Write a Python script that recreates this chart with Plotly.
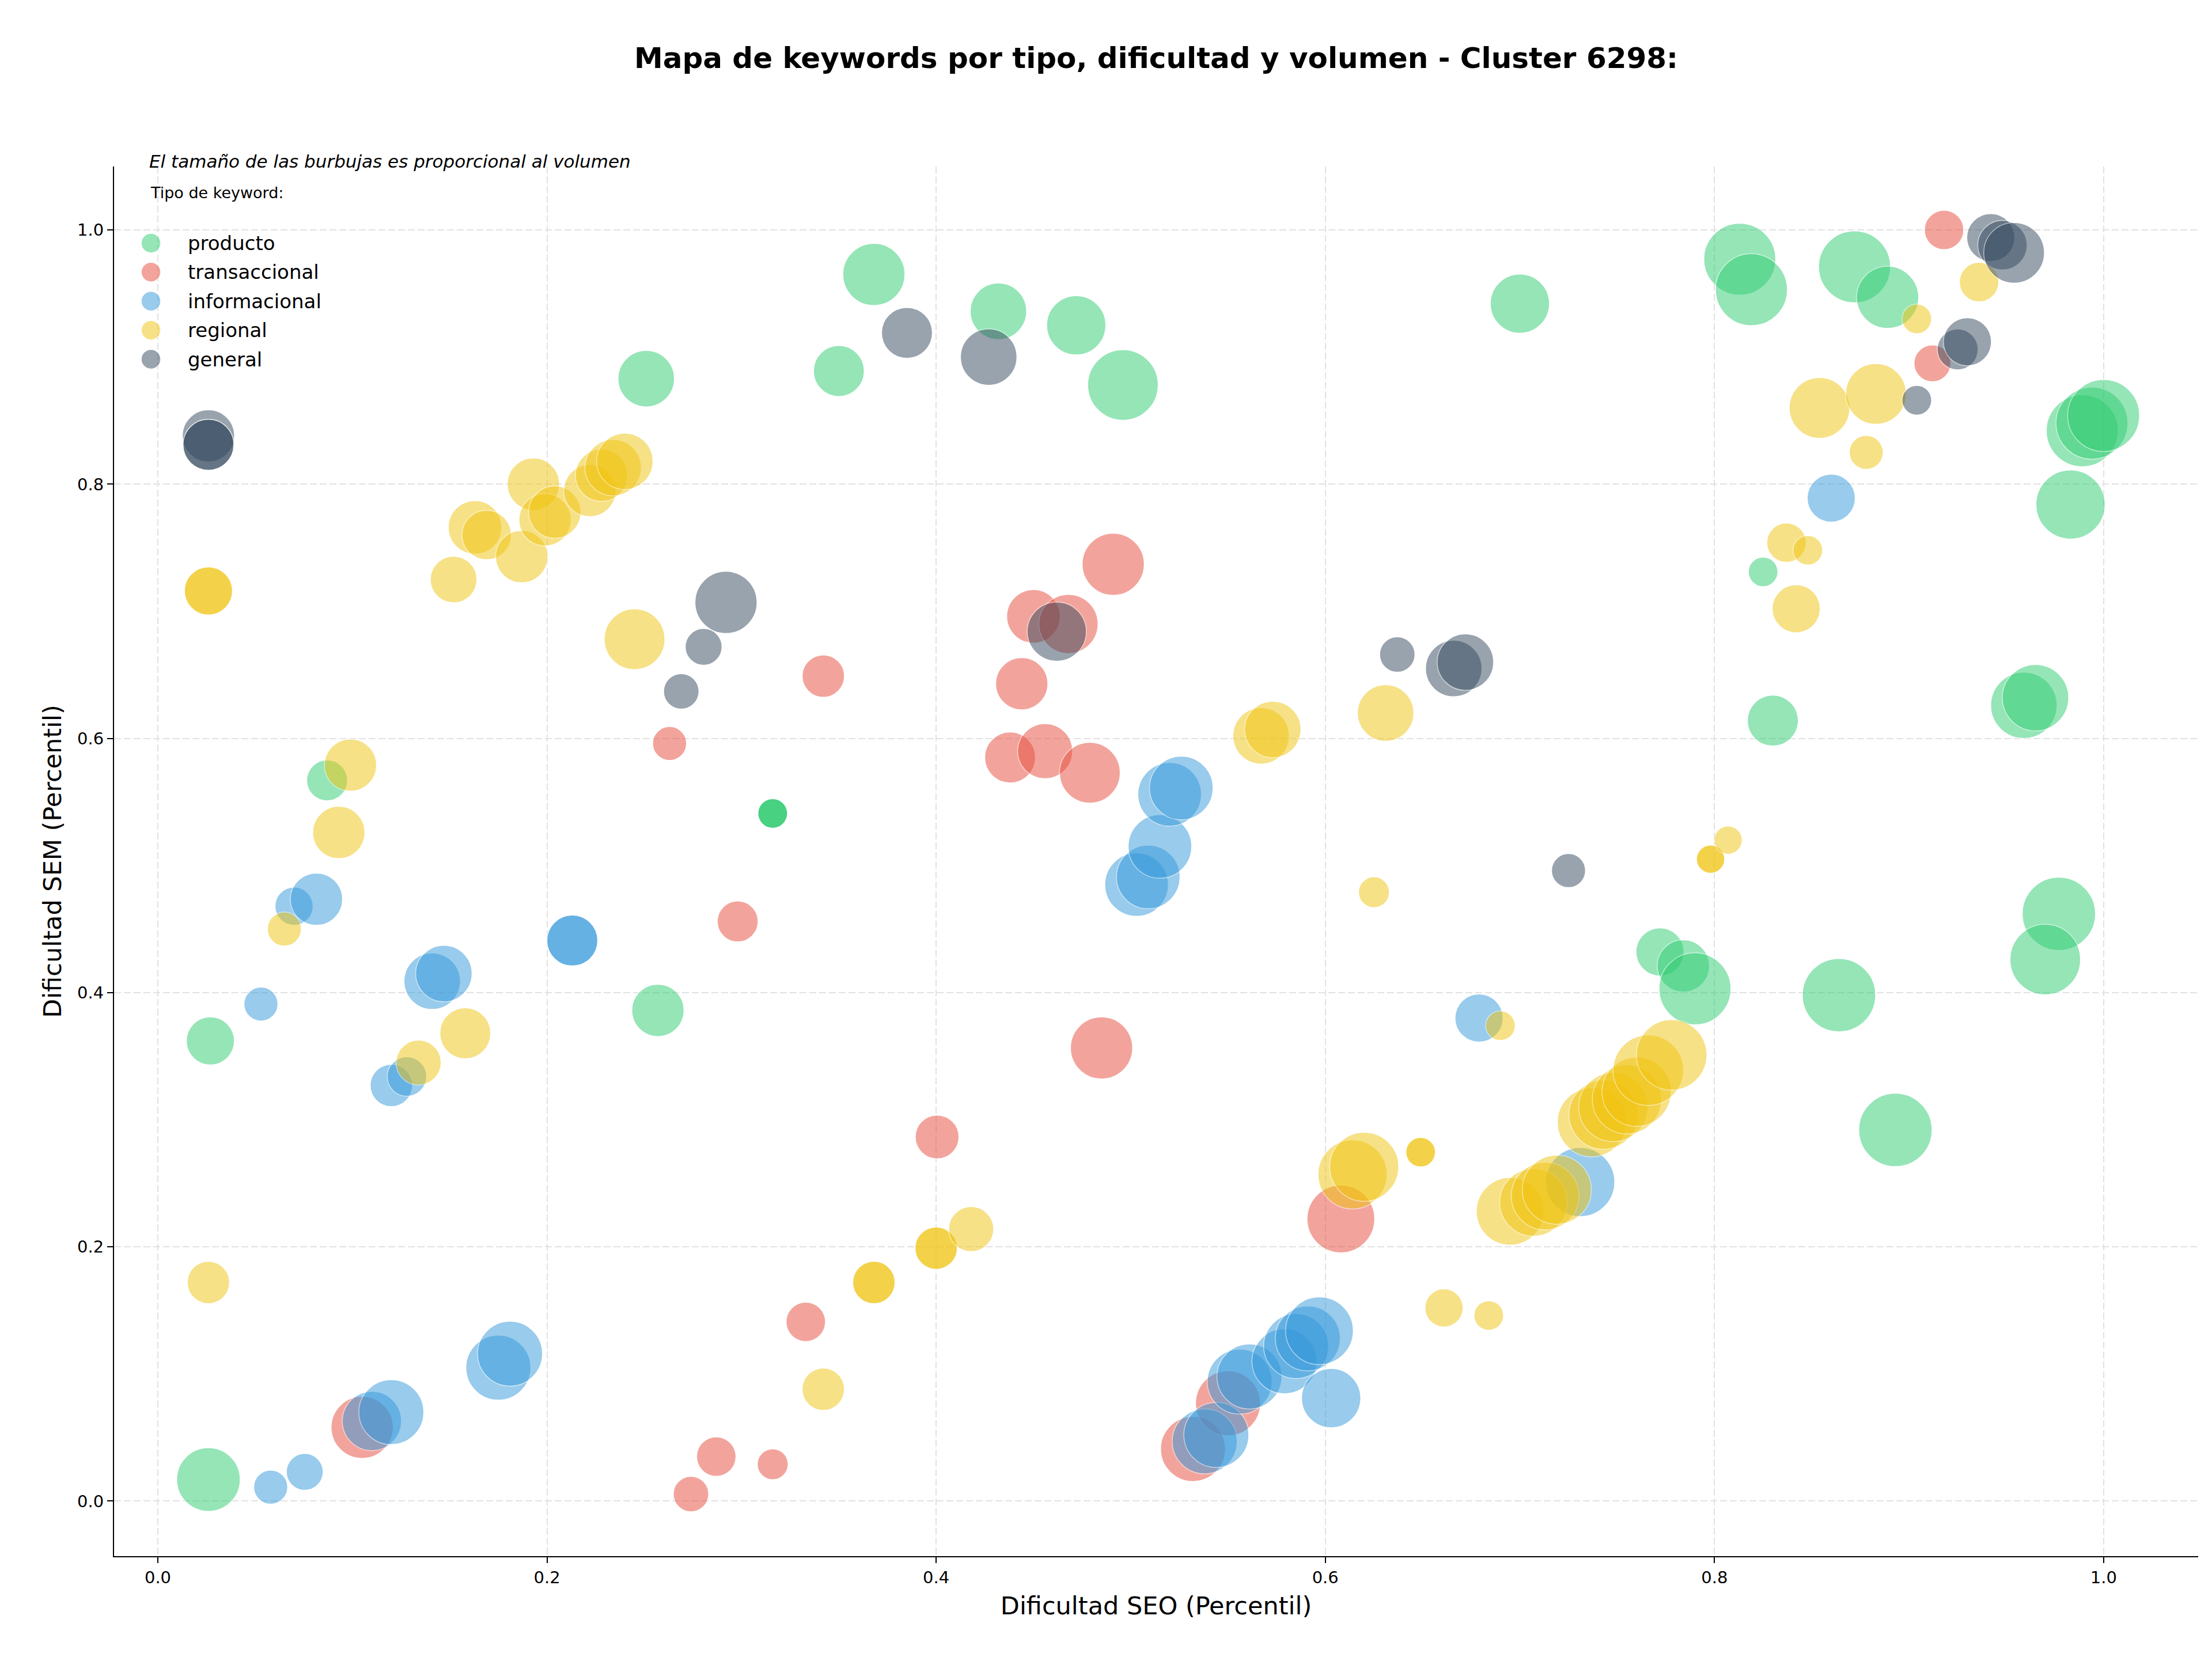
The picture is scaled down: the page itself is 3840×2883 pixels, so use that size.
import numpy as np
import plotly.graph_objects as go

# Datos: dificultad SEO (x), dificultad SEM (y) y volumen por tipo de keyword
tipos = ['producto', 'transaccional', 'informacional', 'regional', 'general']
colores = ['#2ecc71', '#e74c3c', '#3498db', '#f1c40f', '#34495e']

producto_seo = [0.026, 0.027, 0.087, 0.251, 0.257, 0.316, 0.316, 0.316, 0.350, 0.368,
                0.432, 0.472, 0.496, 0.700, 0.813, 0.819, 0.872, 0.889, 0.825, 0.830,
                0.989, 0.994, 1.000, 0.983, 0.959, 0.965, 0.977, 0.970, 0.864, 0.893,
                0.772, 0.784, 0.790]
producto_sem = [0.017, 0.362, 0.567, 0.883, 0.386, 0.541, 0.541, 0.541, 0.889, 0.965,
                0.936, 0.925, 0.878, 0.942, 0.977, 0.953, 0.971, 0.947, 0.731, 0.614,
                0.842, 0.848, 0.854, 0.784, 0.626, 0.632, 0.462, 0.426, 0.398, 0.292,
                0.432, 0.421, 0.403]
producto_vol = [20300, 11600, 8400, 16000, 13700, 4400, 4400, 4400, 13000, 19400,
                16000, 17600, 25000, 17600, 26000, 26000, 26000, 19400, 4400, 13000,
                26000, 26000, 26000, 24000, 22100, 22100, 27000, 25000, 27000, 27000,
                11600, 13700, 26000]

transaccional_seo = [0.105, 0.263, 0.274, 0.287, 0.298, 0.316, 0.333, 0.342, 0.4005, 0.438,
                     0.444, 0.450, 0.456, 0.468, 0.479, 0.485, 0.491, 0.532, 0.550, 0.608,
                     0.912, 0.918]
transaccional_sem = [0.058, 0.596, 0.0055, 0.035, 0.456, 0.029, 0.141, 0.649, 0.2865, 0.585,
                     0.643, 0.696, 0.590, 0.690, 0.573, 0.3565, 0.737, 0.041, 0.077, 0.222,
                     0.895, 1.0]
transaccional_vol = [19400, 5800, 6300, 7800, 8400, 4800, 7800, 9000, 9600, 13000,
                     13700, 14400, 15200, 17600, 18500, 19400, 19400, 21200, 21200, 23000,
                     6800, 7800]

informacional_seo = [0.053, 0.058, 0.0755, 0.070, 0.0815, 0.110, 0.120, 0.120, 0.128, 0.141,
                     0.147, 0.175, 0.181, 0.213, 0.213, 0.503, 0.509, 0.515, 0.520, 0.526,
                     0.538, 0.544, 0.556, 0.561, 0.579, 0.585, 0.591, 0.597, 0.603, 0.679,
                     0.731, 0.860]
informacional_sem = [0.391, 0.011, 0.023, 0.468, 0.4735, 0.063, 0.070, 0.327, 0.334, 0.409,
                     0.415, 0.105, 0.116, 0.441, 0.441, 0.485, 0.491, 0.515, 0.556, 0.561,
                     0.047, 0.052, 0.094, 0.098, 0.110, 0.122, 0.128, 0.134, 0.081, 0.380,
                     0.251, 0.789]
informacional_vol = [5800, 5800, 6800, 7300, 13700, 17600, 21200, 9000, 7800, 16000,
                     16000, 21200, 21200, 13000, 13000, 20300, 20300, 20300, 20300, 20300,
                     21200, 21200, 21200, 21200, 21200, 21200, 21200, 23000, 17600, 11600,
                     24000, 11600]

regional_seo = [0.026, 0.026, 0.026, 0.065, 0.093, 0.099, 0.134, 0.152, 0.158, 0.163,
                0.169, 0.187, 0.193, 0.199, 0.204, 0.222, 0.228, 0.234, 0.240, 0.245,
                0.342, 0.368, 0.368, 0.400, 0.400, 0.418, 0.567, 0.573, 0.614, 0.620,
                0.625, 0.631, 0.649, 0.649, 0.661, 0.684, 0.690, 0.695, 0.707, 0.713,
                0.719, 0.737, 0.743, 0.748, 0.755, 0.760, 0.766, 0.778, 0.798, 0.798,
                0.807, 0.837, 0.842, 0.848, 0.854, 0.878, 0.883, 0.904, 0.936]
regional_sem = [0.716, 0.716, 0.172, 0.450, 0.526, 0.579, 0.345, 0.725, 0.368, 0.766,
                0.760, 0.743, 0.800, 0.772, 0.778, 0.795, 0.807, 0.813, 0.818, 0.678,
                0.088, 0.172, 0.172, 0.199, 0.199, 0.214, 0.602, 0.607, 0.257, 0.263,
                0.479, 0.620, 0.2745, 0.2745, 0.152, 0.146, 0.374, 0.228, 0.235, 0.240,
                0.245, 0.298, 0.304, 0.310, 0.316, 0.322, 0.339, 0.351, 0.505, 0.505,
                0.520, 0.754, 0.702, 0.748, 0.860, 0.825, 0.871, 0.930, 0.959]
regional_vol = [11600, 11600, 9000, 5800, 13700, 13700, 10200, 10900, 13000, 14400,
                12300, 13700, 13700, 13700, 13700, 13700, 13700, 16000, 16000, 18500,
                9000, 9000, 9000, 9000, 9000, 10200, 16000, 16000, 24000, 24000,
                4800, 16000, 4400, 4400, 7300, 4400, 4400, 23000, 23000, 23000,
                24000, 24000, 24000, 24000, 24000, 24000, 25000, 25000, 4000, 4000,
                4000, 7800, 11600, 4400, 18500, 5800, 18500, 4400, 7800]

general_seo = [0.026, 0.026, 0.026, 0.269, 0.2805, 0.292, 0.385, 0.427, 0.462, 0.637,
               0.666, 0.672, 0.725, 0.904, 0.925, 0.930, 0.942, 0.948, 0.954]
general_sem = [0.838, 0.831, 0.831, 0.637, 0.672, 0.707, 0.919, 0.900, 0.684, 0.666,
               0.655, 0.660, 0.496, 0.866, 0.906, 0.912, 0.994, 0.988, 0.982]
general_vol = [13700, 13000, 13000, 6300, 6800, 19400, 13000, 16000, 17600, 6300,
               16000, 16000, 5800, 4400, 8400, 11600, 11600, 12300, 18500]

tick_vals = [0.0, 0.2, 0.4, 0.6, 0.8, 1.0]

TITULO = 'Mapa de keywords por tipo, dificultad y volumen - Cluster 6298:'
NOTA = 'El tamaño de las burbujas es proporcional al volumen'

# the page body has an 8px margin, so the figure is pulled up/left by that much
W, H = 3840, 2883
MARGIN = {'l': 190, 'r': 32, 't': 281, 'b': 190, 'pad': 0}
SIZE_SCALE = 0.7746
FONT = 'DejaVu Sans'

series = {'producto': (producto_seo, producto_sem, producto_vol),
          'transaccional': (transaccional_seo, transaccional_sem, transaccional_vol),
          'informacional': (informacional_seo, informacional_sem, informacional_vol),
          'regional': (regional_seo, regional_sem, regional_vol),
          'general': (general_seo, general_sem, general_vol)}

fig = go.Figure()
for tipo, color in zip(tipos, colores):
    seo, sem, vol = series[tipo]
    fig.add_trace(go.Scatter(x=seo, y=sem, mode='markers', name=tipo, showlegend=False,
                             marker={'size': np.sqrt(np.array(vol)) * SIZE_SCALE,
                                     'color': color, 'opacity': 0.5,
                                     'line': {'color': 'white', 'width': 1.5}},
                             customdata=vol,
                             hovertemplate=tipo + '<br>SEO: %{x}<br>SEM: %{y}<br>Volumen: %{customdata}<extra></extra>'))

# Leyenda dibujada a mano (marcadores grandes como en el original)
shapes = []
annotations = [dict(text=f'<i>{NOTA}</i>', x=0.0163, y=1.0037, xref='paper', yref='paper',
                    xanchor='left', yanchor='middle', showarrow=False,
                    font={'size': 31, 'color': 'black', 'family': FONT}),
               dict(text='Tipo de keyword:', x=0.0169, y=0.981, xref='paper', yref='paper',
                    xanchor='left', yanchor='middle', showarrow=False,
                    font={'size': 27, 'color': 'black', 'family': FONT})]
for i, (tipo, color) in enumerate(zip(tipos, colores)):
    yy = 0.9449 - i * 0.0209
    shapes.append(dict(type='circle', xref='paper', yref='paper', xsizemode='pixel', ysizemode='pixel',
                       xanchor=0.0177, yanchor=yy, x0=-17, x1=17, y0=-17, y1=17,
                       fillcolor=color, opacity=0.5, line={'color': 'white', 'width': 1.5}))
    annotations.append(dict(text=tipo, x=0.0348, y=yy, xref='paper', yref='paper',
                            xanchor='left', yanchor='middle', showarrow=False,
                            font={'size': 34, 'color': 'black', 'family': FONT}))

axis_common = dict(showgrid=True, gridcolor='#e2e2e2', gridwidth=2, griddash='12px,5px',
                   zeroline=False, showline=True, linecolor='black', linewidth=2.2,
                   ticks='outside', ticklen=10, tickwidth=2.2, tickcolor='black',
                   tickvals=tick_vals, tickformat='.1f',
                   tickfont={'size': 29, 'color': 'black', 'family': FONT})

fig.update_layout(width=W, height=H, margin=MARGIN,
                  plot_bgcolor='white', paper_bgcolor='white',
                  font={'family': FONT, 'color': 'black'},
                  title={'text': f'<b>{TITULO}</b>', 'x': 0.5, 'xref': 'paper', 'xanchor': 'center',
                         'y': 1 - 92 / H, 'yref': 'container', 'yanchor': 'middle',
                         'font': {'size': 50, 'color': 'black', 'family': FONT}},
                  xaxis=dict(axis_common, range=[-0.0225, 1.0486],
                             title={'text': 'Dificultad SEO (Percentil)', 'standoff': 18,
                                    'font': {'size': 43, 'color': 'black', 'family': FONT}}),
                  yaxis=dict(axis_common, range=[-0.0433, 1.0499],
                             title={'text': 'Dificultad SEM (Percentil)', 'standoff': 14,
                                    'font': {'size': 43, 'color': 'black', 'family': FONT}}),
                  shapes=shapes, annotations=annotations, showlegend=False)

fig.write_html('out.html')
